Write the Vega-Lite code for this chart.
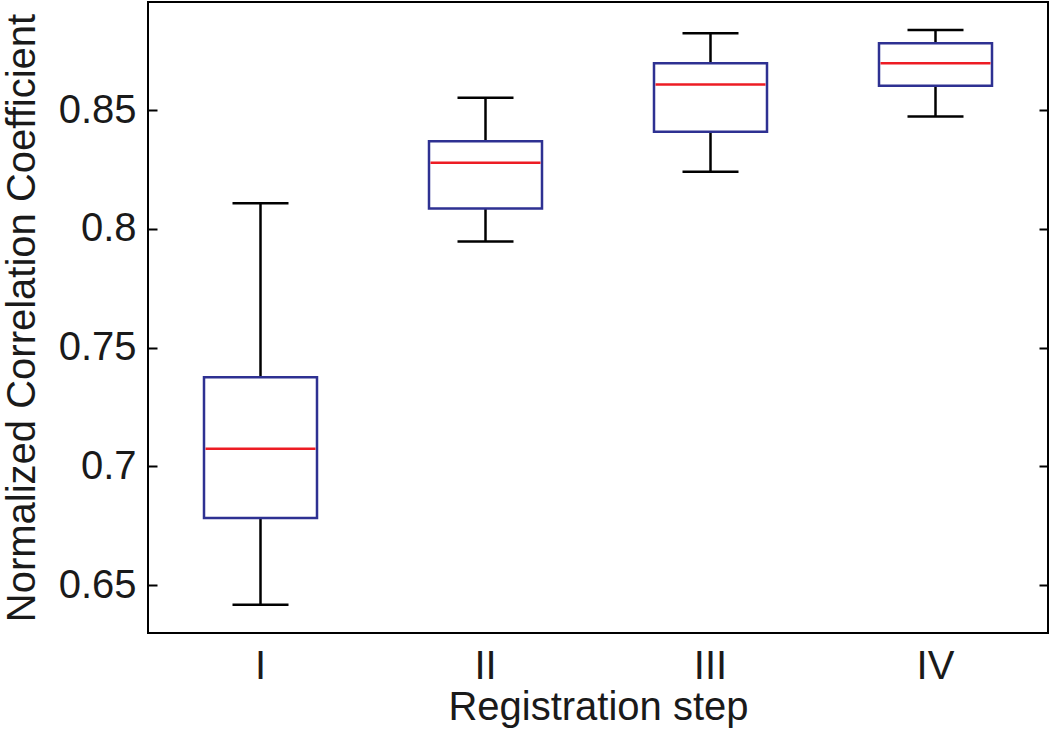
{
  "$schema": "https://vega.github.io/schema/vega-lite/v6.json",
  "autosize": "none",
  "width": 900,
  "height": 631,
  "padding": {"left": 148, "top": 2, "right": 2, "bottom": 98},
  "background": "white",
  "config": {
    "view": {"stroke": "#000000", "strokeWidth": 2},
    "font": "Liberation Sans",
    "axis": {"labelFont": "Liberation Sans", "titleFont": "Liberation Sans", "labelColor": "#1a1a1a", "titleColor": "#1a1a1a", "titleFontWeight": "normal", "grid": false}
  },
  "data": {
    "values": [
      {"step": "I", "lower": 0.6417, "q1": 0.6782, "median": 0.7074, "q3": 0.7375, "upper": 0.8108},
      {"step": "II", "lower": 0.7946, "q1": 0.8086, "median": 0.8278, "q3": 0.8369, "upper": 0.8552},
      {"step": "III", "lower": 0.8240, "q1": 0.8409, "median": 0.8608, "q3": 0.8697, "upper": 0.8823},
      {"step": "IV", "lower": 0.8473, "q1": 0.8602, "median": 0.8697, "q3": 0.8781, "upper": 0.8837}
    ]
  },
  "encoding": {
    "x": {
      "field": "step", "type": "nominal", "sort": ["I", "II", "III", "IV"],
      "scale": {"domain": ["I", "II", "III", "IV"], "paddingInner": 0, "paddingOuter": 0},
      "axis": {"title": "Registration step", "labelAngle": 0, "labelFontSize": 40, "titleFontSize": 40, "ticks": false, "domain": false, "labelPadding": 13, "titlePadding": 1}
    }
  },
  "layer": [
    {
      "mark": {"type": "rule", "color": "#000000", "strokeWidth": 2.5},
      "encoding": {
        "y": {"field": "lower", "type": "quantitative",
          "scale": {"domain": [0.6298, 0.8955], "nice": false, "zero": false},
          "axis": {"orient": "left", "title": "Normalized Correlation Coefficient", "values": [0.65, 0.7, 0.75, 0.8, 0.85], "format": "~g", "labelFontSize": 40, "titleFontSize": 40, "tickSize": -9, "tickWidth": 2, "tickColor": "#000000", "domain": false, "labelPadding": 21, "titlePadding": 16}},
        "y2": {"field": "q1"}
      }
    },
    {
      "mark": {"type": "rule", "color": "#000000", "strokeWidth": 2.5},
      "encoding": {
        "y": {"field": "q3", "type": "quantitative",
          "axis": {"orient": "right", "title": null, "values": [0.65, 0.7, 0.75, 0.8, 0.85], "labels": false, "tickSize": -9, "tickWidth": 2, "tickColor": "#000000", "domain": false}},
        "y2": {"field": "upper"}
      }
    },
    {
      "mark": {"type": "tick", "color": "#000000", "opacity": 1, "thickness": 2.5, "size": 56},
      "encoding": {"y": {"field": "lower", "type": "quantitative", "axis": null}}
    },
    {
      "mark": {"type": "tick", "color": "#000000", "opacity": 1, "thickness": 2.5, "size": 56},
      "encoding": {"y": {"field": "upper", "type": "quantitative", "axis": null}}
    },
    {
      "mark": {"type": "bar", "fill": "#ffffff", "stroke": "#2E3192", "strokeWidth": 2.5, "size": 113},
      "encoding": {"y": {"field": "q1", "type": "quantitative", "axis": null}, "y2": {"field": "q3"}}
    },
    {
      "mark": {"type": "tick", "color": "#ED1C24", "opacity": 1, "thickness": 2.5, "size": 110},
      "encoding": {"y": {"field": "median", "type": "quantitative", "axis": null}}
    }
  ],
  "resolve": {"axis": {"y": "independent"}}
}
